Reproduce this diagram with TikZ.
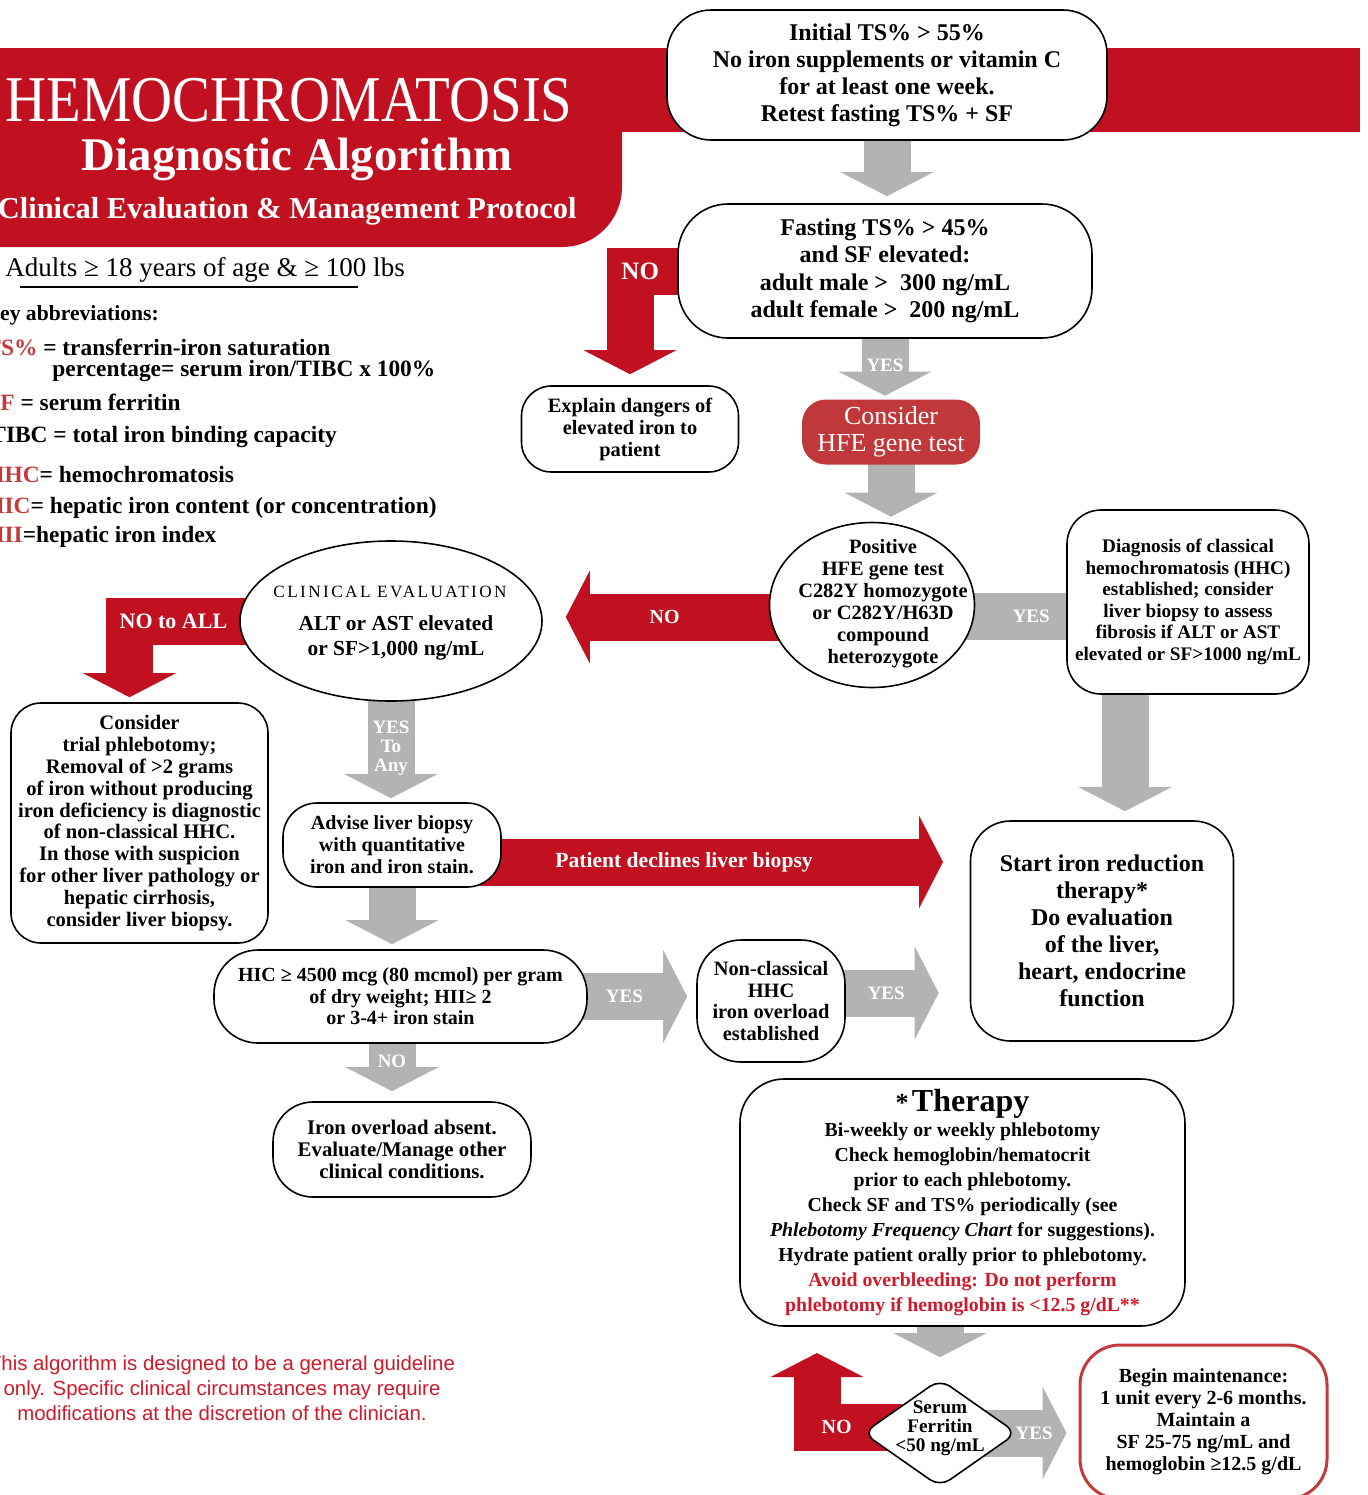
\documentclass[tikz,border=0pt]{standalone}
\usepackage{fontspec}
\setmainfont{Liberation Serif}
\newfontfamily\notefont{Liberation Sans}
\usepackage{xcolor}
\usepackage{graphicx}
\usetikzlibrary{arrows.meta,positioning,calc,shapes.geometric,backgrounds}
\definecolor{hhcred}{RGB}{193,17,33}
\definecolor{hferose}{RGB}{193,56,59}
\definecolor{keyred}{RGB}{196,58,60}
\definecolor{warnred}{RGB}{206,26,42}
\definecolor{flowgray}{RGB}{179,179,179}
\newcommand{\fsz}[2]{\fontsize{#1}{#2}\selectfont}

\begin{document}
\begin{tikzpicture}[x=0.5pt,y=-0.5pt,
  box/.style={draw,line width=0.8pt,fill=white,align=center,inner sep=0pt,rounded corners=#1},
  box/.default=15pt,
  blob/.style={draw,line width=0.8pt,fill=white,inner sep=0pt},
  fat/.style={line width=23.5pt,draw=#1},
  tipped/.style={-{Triangle[length=12pt,width=46pt]}},
  lbl/.style={text=white,font=\bfseries\fsz{9.5}{9.5},inner sep=0pt},
  keyline/.style={anchor=west,inner sep=0pt,font=\bfseries\fsz{11.7}{12}}]
  \useasboundingbox (0,0) rectangle (1367,1495);

  % title block
  \node[anchor=east,text=white,inner sep=0pt,font=\fsz{28.4}{30}] (title) at (573,100) {\scalebox{1}[1.15]{HEMOCHROMATOSIS}};
  \node[text=white,inner sep=0pt,font=\bfseries\fsz{23.4}{24}] (subtitle) at (297,159) {Diagnostic Algorithm};
  \node[anchor=east,text=white,inner sep=0pt,font=\bfseries\fsz{15.2}{16}] (protocol) at (577,211) {Clinical Evaluation \& Management Protocol};
  \node[anchor=west,inner sep=0pt,font=\fsz{13.5}{14}] (adults) at (5,270) {Adults ≥ 18 years of age \& ≥ 100 lbs};
  \draw[line width=0.7pt] (20,287) -- (358,287);

  % key
  \node[keyline,font=\bfseries\fsz{10.8}{12}] (keyhead) at (-17,315) {Key abbreviations:};
  \node[keyline] (keyts) at (-15,347) {\textcolor{keyred}{TS\%} = transferrin-iron saturation};
  \node[keyline] (keytsdef) at (52,371) {percentage= serum iron/TIBC x 100\%};
  \node[keyline] (keysf) at (-13,402) {\textcolor{keyred}{SF} = serum ferritin};
  \node[keyline] (keytibc) at (-10,437) {TIBC = total iron binding capacity};
  \node[keyline] (keyhhc) at (-14,474) {\textcolor{keyred}{HHC}= hemochromatosis};
  \node[keyline] (keyhic) at (-14,508) {\textcolor{keyred}{HIC}= hepatic iron content (or concentration)};
  \node[keyline] (keyhii) at (-14,537) {\textcolor{keyred}{HII}=hepatic iron index};

  % flow boxes
  \node[box=22pt,minimum width=220pt,minimum height=65pt,font=\bfseries\fsz{12}{13.5}] (initial) at (887,75)
    {Initial TS\% > 55\%\\No iron supplements or vitamin C\\for at least one week.\\Retest fasting TS\% + SF};
  \node[box=25pt,minimum width=207pt,minimum height=67pt,font=\bfseries\fsz{12}{13.75}] (fasting) at (885,271)
    {Fasting TS\% > 45\%\\and SF elevated:\\adult male >~~300 ng/mL\\adult female >~~200 ng/mL};
  \node[box=15pt,minimum width=108.5pt,minimum height=43pt,font=\bfseries\fsz{10.2}{11}] (explain) at (630,429)
    {Explain dangers of\\elevated iron to\\patient};
  \node[box=12pt,draw=none,fill=hferose,text=white,minimum width=89pt,minimum height=32.5pt,font=\fsz{13}{13.5}] (hfetest) at (891,432)
    {Consider\\HFE gene test};
  \node[blob,ellipse,minimum width=102.5pt,minimum height=82.5pt] (hfepos) at (872,605) {};
  \node[align=center,font=\bfseries\fsz{10.2}{11}] (hfepos-t) at (883,604)
    {Positive\\HFE gene test\\C282Y~homozygote\\or C282Y/H63D\\compound\\heterozygote};
  \node[box=17pt,minimum width=121pt,minimum height=92pt,font=\bfseries\fsz{9.6}{10.75}] (diagnosis) at (1188,602)
    {Diagnosis of classical\\hemochromatosis (HHC)\\established; consider\\liver biopsy to assess\\fibrosis if ALT or AST\\elevated or SF>1000 ng/mL};
  \node[box=20pt,minimum width=131.5pt,minimum height=110pt,font=\bfseries\fsz{12}{13.5}] (reduction) at (1102,931)
    {Start iron reduction\\therapy*\\Do evaluation\\of the liver,\\heart, endocrine\\function};
  \node[blob,ellipse,minimum width=151pt,minimum height=80pt] (clinic) at (391,621) {};
  \node[font={\fsz{8.6}{9}\addfontfeature{LetterSpace=14}}] (clinic-h) at (390,592) {CLINICAL EVALUATION};
  \node[align=center,font=\bfseries\fsz{10.7}{12.5}] (clinic-t) at (396,638) {ALT or AST elevated\\or SF>1,000 ng/mL};
  \node[box=15pt,minimum width=128.5pt,minimum height=120pt,font=\bfseries\fsz{10.3}{10.9}] (trial) at (139.5,823)
    {Consider\\trial phlebotomy;\\Removal of >2 grams\\of iron without producing\\iron deficiency is diagnostic\\of non-classical HHC.\\In those with suspicion\\for other liver pathology or\\hepatic cirrhosis,\\consider liver biopsy.};
  \node[box=17pt,minimum width=109pt,minimum height=42pt,font=\bfseries\fsz{10}{11}] (biopsy) at (392,845)
    {Advise liver biopsy\\with quantitative\\iron and iron stain.};
  \node[box=22pt,minimum width=186.5pt,minimum height=46.5pt,font=\bfseries\fsz{10}{10.75}] (hic) at (400.5,996.5)
    {HIC ≥ 4500 mcg (80 mcmol) per gram\\of dry weight; HII≥ 2\\or 3-4+ iron stain};
  \node[box=22pt,minimum width=74pt,minimum height=61pt,font=\bfseries\fsz{10.2}{10.75}] (nonclassical) at (771,1001)
    {Non-classical\\HHC\\iron overload\\established};
  \node[box=20pt,minimum width=129pt,minimum height=47.5pt,font=\bfseries\fsz{10.4}{11}] (absent) at (402,1149.5)
    {Iron overload absent.\\Evaluate/Manage other\\clinical conditions.};
  \node[box=22pt,minimum width=222.5pt,minimum height=123.5pt,font=\bfseries\fsz{9.9}{12.5}] (therapy) at (962.5,1202.5)
    {{\fsz{13}{13}*}\,{\fsz{16}{16}Therapy}\\Bi-weekly or weekly phlebotomy\\Check hemoglobin/hematocrit\\prior to each phlebotomy.\\Check SF and TS\% periodically (see\\\textit{Phlebotomy Frequency Chart} for suggestions).\\Hydrate patient orally prior to phlebotomy.\\\textcolor{warnred}{Avoid overbleeding: Do not perform}\\\textcolor{warnred}{phlebotomy if hemoglobin is <12.5 g/dL**}};
  \node[blob,diamond,rounded corners=6pt,minimum width=77pt,minimum height=54pt] (ferritin) at (940,1433) {};
  \node[align=center,font=\bfseries\fsz{9.6}{9.5}] (ferritin-t) at (940,1428) {Serum\\Ferritin\\<50 ng/mL};
  \node[box=20pt,draw=keyred,line width=1.5pt,minimum width=123.5pt,minimum height=77pt,font=\bfseries\fsz{10}{11}] (maintenance) at (1203.5,1422)
    {Begin maintenance:\\1 unit every 2-6 months.\\Maintain a\\SF 25-75 ng/mL and\\hemoglobin ≥12.5 g/dL};

  \node[align=center,text=warnred,font=\notefont\fsz{10.2}{12.5}] (disclaimer) at (222,1388)
    {This algorithm is designed to be a general guideline\\only. Specific clinical circumstances may require\\modifications at the discretion of the clinician.};

  \coordinate (diagdrop) at ($(diagnosis)+(-63,0)$);
  \coordinate (declineend) at (943,862);
  \coordinate (noup) at (817,1353);

  \begin{scope}[on background layer]
    % red banner behind the title
    \fill[hhcred] (0,48) rectangle (1360,132);
    \fill[hhcred] (0,48) -- (622,48) -- (622,187) arc[start angle=0,end angle=-90,radius=30pt] -- (0,247) -- cycle;

    \draw[fat=flowgray,tipped,shorten >=3.5pt] (initial.center) -- (initial |- fasting.north);
    \draw[fat=flowgray,tipped,shorten >=1.5pt] (fasting.center) -- (fasting |- hfetest.north) node[lbl,pos=0.74] {YES};
    \draw[fat=hhcred,tipped,shorten >=5.5pt] (fasting.center) -| (explain.north) node[lbl,font=\bfseries\fsz{12.5}{12.5},pos=0.48] {NO};
    \draw[fat=flowgray,tipped,shorten >=2.5pt] (hfetest.center) -- (hfetest |- hfepos.north);
    \draw[fat=flowgray] ([yshift=-5.5pt]hfepos.center) -- ([yshift=-5.5pt]hfepos.center -| diagnosis.west) node[lbl,pos=0.82] {YES};
    \draw[fat=flowgray,tipped,shorten >=4.5pt] (diagdrop) -- (diagdrop |- reduction.north);
    \draw[fat=hhcred,tipped,shorten >=11.5pt] ([yshift=-6pt]hfepos.center) -- ([yshift=-6pt]hfepos.center -| clinic.east) node[lbl,font=\bfseries\fsz{10}{10},pos=0.63] {NO};
    \draw[fat=hhcred,tipped,shorten >=2.5pt] (clinic.center) -| ([xshift=-5pt]trial.north) node[lbl,font=\bfseries\fsz{11}{11},pos=0.416] {NO to ALL};
    \draw[fat=flowgray,tipped,shorten >=2pt] (clinic.center) -- (clinic |- biopsy.north) node[lbl,align=center,pos=0.7] {YES\\To\\Any};
    \draw[fat=hhcred,tipped] ([yshift=-8.5pt]biopsy.center) -- (declineend) node[lbl,font=\bfseries\fsz{10.8}{10.8},pos=0.53] {Patient declines liver biopsy};
    \draw[fat=flowgray,tipped,shorten >=2.5pt] (biopsy.center) -- (biopsy |- hic.north);
    \draw[fat=flowgray,tipped,shorten >=4.5pt] (hic.center) -- (hic -| nonclassical.west) node[lbl,pos=0.757] {YES};
    \draw[fat=flowgray,tipped,shorten >=15.5pt] ([yshift=4pt]nonclassical.center) -- ([yshift=4pt]nonclassical.center -| reduction.west) node[lbl,pos=0.58] {YES};
    \draw[fat=flowgray,tipped,shorten >=5pt] (biopsy |- hic) -- (biopsy |- absent.north) node[lbl,pos=0.62] {NO};
    \draw[fat=flowgray,tipped,shorten >=10.5pt] (ferritin |- therapy) -- (ferritin.north);
    \draw[fat=flowgray,tipped,shorten >=6pt] (ferritin.center) -- (ferritin -| maintenance.west) node[lbl,pos=0.68] {YES};
    \draw[fat=hhcred,tipped] ([yshift=3pt]ferritin.center) -| (noup) node[lbl,font=\bfseries\fsz{10}{10},pos=0.42] {NO};
  \end{scope}
\end{tikzpicture}
\end{document}
